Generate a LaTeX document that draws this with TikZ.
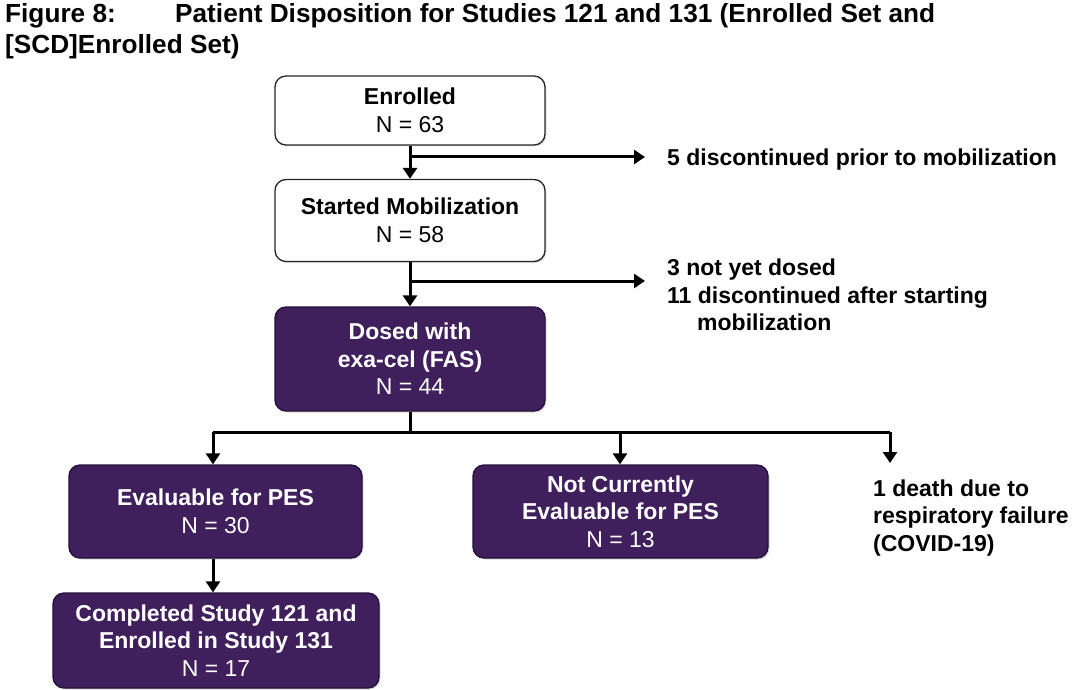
\documentclass[tikz,border=0pt]{standalone}
\usepackage{fontspec}
\setmainfont{Liberation Sans}
\usetikzlibrary{arrows.meta,shadows}
\definecolor{purp}{HTML}{3F1F5C}
\definecolor{purpdark}{HTML}{24103A}
\tikzset{
  wbox/.style={draw=black!85, line width=1.3pt, fill=white, rounded corners=11pt, align=center, inner sep=2pt,
    font=\fontsize{23}{27.5}\selectfont, drop shadow={shadow xshift=1.5pt, shadow yshift=-1.5pt, opacity=0.25}},
  pbox/.style={draw=purpdark, line width=1.3pt, fill=purp, text=white, rounded corners=11pt, align=center, inner sep=2pt,
    font=\fontsize{23}{27.5}\selectfont, drop shadow={shadow xshift=1.5pt, shadow yshift=-1.5pt, opacity=0.3}},
  conn/.style={line width=3pt, black},
  arr/.style={conn, -{Triangle[width=14pt,length=11pt]}},
  side/.style={font=\bfseries\fontsize{23}{27.5}\selectfont, align=left, inner sep=0pt},
  ttl/.style={font=\bfseries\fontsize{26.2}{31}\selectfont, inner sep=0pt, anchor=base west},
}
\begin{document}
\begin{tikzpicture}[x=1pt,y=-1pt]
\useasboundingbox (0,0) rectangle (1080,690);
% title
\node[ttl] (t1) at (5,23) {Figure 8:};
\node[ttl] (t2) at (175,23) {Patient Disposition for Studies 121 and 131 (Enrolled Set and};
\node[ttl] (t3) at (5,54) {[SCD]Enrolled Set)};
% boxes
\node[wbox, minimum width=270pt, minimum height=69pt] (enr) at (410,110.5) {\textbf{Enrolled}\\N = 63};
\node[wbox, minimum width=270pt, minimum height=82pt] (sm) at (410,220.5) {\textbf{Started Mobilization}\\N = 58};
\node[pbox, minimum width=270pt, minimum height=104pt] (dose) at (410,359) {\textbf{Dosed with}\\\textbf{exa-cel (FAS)}\\N = 44};
\node[pbox, minimum width=293pt, minimum height=93pt] (ev) at (215.5,511.5) {\textbf{Evaluable for PES}\\N = 30};
\node[pbox, minimum width=295pt, minimum height=93pt] (nc) at (620.5,511.5) {\textbf{Not Currently}\\\textbf{Evaluable for PES}\\N = 13};
\node[pbox, minimum width=326pt, minimum height=95pt] (comp) at (216,640.5) {\textbf{Completed Study 121 and}\\\textbf{Enrolled in Study 131}\\N = 17};
% side texts
\node[side, anchor=west] (s1) at (667,159.5) {5 discontinued prior to mobilization};
\node[side, anchor=north west] (s2) at (667,259) {3 not yet dosed\\11 discontinued after starting\\\hspace*{30pt}mobilization};
\node[side, anchor=north west] (s3) at (873,479.5) {1 death due to\\respiratory failure\\(COVID-19)};
% connectors
\coordinate (b1) at (410,157);
\coordinate (e1) at (645,157);
\coordinate (b2) at (410,281);
\coordinate (e2) at (645,281);
\coordinate (h0) at (410,432);
\coordinate (hl) at (213,432);
\coordinate (hm) at (620,432);
\coordinate (hr) at (890,432);
\coordinate (e3) at (890,463);
\draw[arr] (enr.south) -- (sm.north);
\draw[arr] (b1) -- (e1);
\draw[arr] (sm.south) -- (dose.north);
\draw[arr] (b2) -- (e2);
\draw[conn] (dose.south) -- (h0);
\draw[conn] (hl) -- (hr);
\draw[arr] (hl) -- (hl |- ev.north);
\draw[arr] (hm) -- (hm |- nc.north);
\draw[arr] (hr) -- (e3);
\draw[arr] (ev.south -| hl) -- (hl |- comp.north);
\end{tikzpicture}
\end{document}
